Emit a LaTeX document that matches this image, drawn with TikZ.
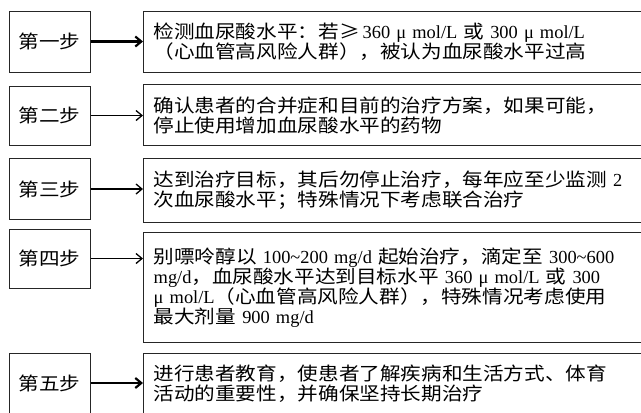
\documentclass[tikz,border=0pt]{standalone}
\usepackage{fontspec}
\setmainfont{Liberation Serif}
\newfontfamily\zhfont[FakeStretch=1.12]{Noto Sans CJK SC}
\newcommand\zh[1]{{\zhfont #1}}
\usetikzlibrary{arrows.meta}
\begin{document}
\begin{tikzpicture}[x=1pt,y=-1pt,
  stepbox/.style={draw=black!85,line width=1pt,minimum width=81pt,inner sep=0pt,
    font=\fontsize{18.4}{20}\selectfont},
  infobox/.style={draw=black!85,line width=1.1pt,anchor=north west,minimum width=510pt,
    text width=490pt,inner xsep=10pt,inner ysep=0pt,align=left,
    font=\fontsize{18.4}{20}\selectfont},
  thinarr/.style={-{Straight Barb[length=6pt,width=10pt]},line width=1.3pt},
  thickarr/.style={-{Straight Barb[length=6pt,width=10pt]},line width=2.2pt}]
\useasboundingbox (0,0) rectangle (641,413);
\fill[white] (0,0) rectangle (641,413);

\node[stepbox,minimum height=61pt] (s1) at (49.5,41.5) {\zh{第一步}};
\node[stepbox,minimum height=59pt] (s2) at (49.5,115.5) {\zh{第二步}};
\node[stepbox,minimum height=61pt] (s3) at (49.5,189) {\zh{第三步}};
\node[stepbox,minimum height=59pt] (s4) at (49.5,258.5) {\zh{第四步}};
\node[stepbox,minimum height=60pt] (s5) at (49.5,383) {\zh{第五步}};

\node[infobox,minimum height=61pt] (r1) at (143,11)
  {\zh{检测血尿酸水平：若≥}\,360 μ mol/L \zh{或} 300 μ mol/L\\
   \zh{（心血管高风险人群），被认为血尿酸水平过高}};
\node[infobox,minimum height=61pt] (r2) at (143,84)
  {\zh{确认患者的合并症和目前的治疗方案，如果可能，}\\
   \zh{停止使用增加血尿酸水平的药物}};
\node[infobox,minimum height=64pt] (r3) at (143,158)
  {\zh{达到治疗目标，其后勿停止治疗，每年应至少监测} 2\\
   \zh{次血尿酸水平；特殊情况下考虑联合治疗}};
\node[infobox,minimum height=110pt,line width=1.4pt] (r4) at (143,232)
  {\zh{别嘌呤醇以} 100\textasciitilde200 mg/d \zh{起始治疗，滴定至} 300\textasciitilde600\\
   mg/d\zh{，血尿酸水平达到目标水平} 360 μ mol/L \zh{或} 300\\
   μ mol/L\zh{（心血管高风险人群），特殊情况考虑使用}\\
   \zh{最大剂量} 900 mg/d};
\node[infobox,minimum height=60pt] (r5) at (143,353)
  {\zh{进行患者教育，使患者了解疾病和生活方式、体育}\\
   \zh{活动的重要性，并确保坚持长期治疗}};

\draw[thickarr] (s1.east) -- (s1.east -| r1.west);
\draw[thinarr] (s2.east) -- (s2.east -| r2.west);
\draw[thinarr] (s3.east) -- (s3.east -| r3.west);
\draw[thinarr] (s4.east) -- (s4.east -| r4.west);
\draw[thickarr] (s5.east) -- (s5.east -| r5.west);
\end{tikzpicture}
\end{document}
